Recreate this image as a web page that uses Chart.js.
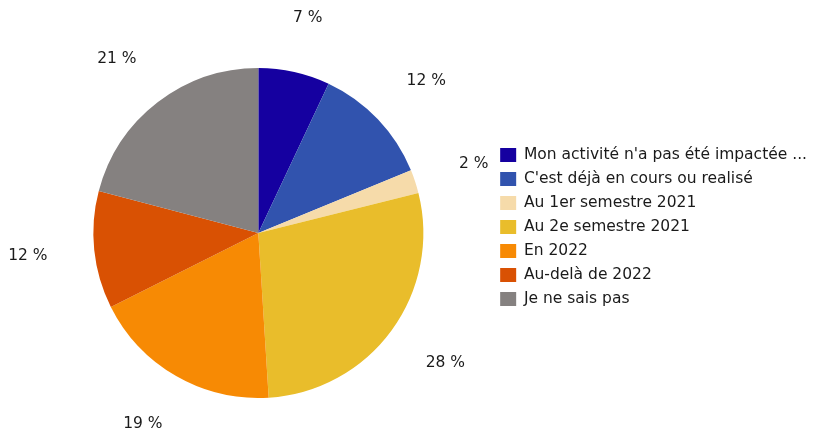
<!DOCTYPE html>
<html>
<head>
<meta charset="utf-8">
<script src="https://cdn.jsdelivr.net/npm/chart.js@4.4.1/dist/chart.umd.min.js"></script>
<style>
html,body{margin:0;padding:0;background:#fff;}
#wrap{width:813px;height:432px;position:relative;}
</style>
</head>
<body>
<div id="wrap"><canvas id="c" width="813" height="432"></canvas></div>
<script>
const categories = [
  "Mon activité n'a pas été impactée ...",
  "C'est déjà en cours ou realisé",
  "Au 1er semestre 2021",
  "Au 2e semestre 2021",
  "En 2022",
  "Au-delà de 2022",
  "Je ne sais pas"
];
const values = [7.0, 11.8, 2.3, 27.9, 18.6, 11.5, 20.9];
const colors = ["#1500a0", "#3153ae", "#f6dbaa", "#e9bd2b", "#f78a04", "#d95103", "#858180"];

const FONT = "DejaVu Sans";
const FSIZE = 15.5;

const outsideLabels = {
  id: 'outsideLabels',
  afterDatasetsDraw(chart) {
    const ctx = chart.ctx;
    const meta = chart.getDatasetMeta(0);
    ctx.save();
    ctx.font = FSIZE + "px '" + FONT + "'";
    ctx.fillStyle = "#1a1a1a";
    ctx.textAlign = "center";
    ctx.textBaseline = "middle";
    meta.data.forEach((arc, i) => {
      const p = arc.getProps(['x','y','startAngle','endAngle','outerRadius'], true);
      const mid = (p.startAngle + p.endAngle) / 2;
      const txt = Math.round(values[i]) + " %";
      const w = ctx.measureText(txt).width;
      const h = 16;
      const d = p.outerRadius + 47;
      const c = Math.cos(mid), s = Math.sin(mid);
      const tx = p.x + c * d + c * w / 2;
      const ty = p.y + s * d + s * h / 2;
      ctx.fillText(txt, tx, ty);
    });
    ctx.restore();
  }
};

const legendShift = {
  id: 'legendShift',
  afterLayout(chart) {
    if (chart.legend) {
      chart.legend.top -= 6;
      chart.legend.bottom -= 6;
    }
  }
};

new Chart(document.getElementById('c'), {
  type: 'pie',
  data: {
    labels: categories,
    datasets: [{
      data: values,
      backgroundColor: colors,
      borderWidth: 0
    }]
  },
  options: {
    responsive: false,
    animation: false,
    layout: { padding: { top: 68, bottom: 34, left: 25, right: -4 } },
    plugins: {
      tooltip: { enabled: false },
      legend: {
        position: 'right',
        align: 'center',
        labels: {
          boxWidth: 16,
          boxHeight: 14,
          padding: 8.5,
          color: "#1a1a1a",
          font: { family: FONT, size: FSIZE }
        }
      }
    }
  },
  plugins: [outsideLabels, legendShift]
});
</script>
</body>
</html>
